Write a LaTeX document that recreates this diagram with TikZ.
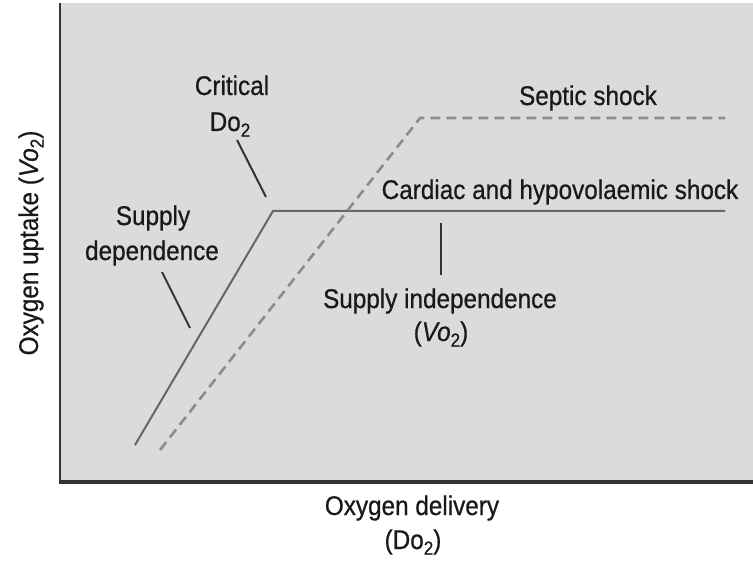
\documentclass[tikz,border=0pt]{standalone}
\usepackage{fontspec}
\setmainfont{Liberation Sans}[FakeStretch=0.9,FakeBold=0.6]
\newcommand\lowtwo{\raisebox{-0.4ex}{\fontsize{19}{19}\selectfont 2}}
\begin{document}
\begin{tikzpicture}[x=1pt,y=-1pt,
  lbl/.style={anchor=base,inner sep=0pt,font=\fontsize{27}{30}\selectfont,text=black!90},
  axisline/.style={draw=black!80,line width=#1},
  leader/.style={draw=black!80,line width=2pt},
  solidcurve/.style={draw=black!60,line width=2pt,line join=miter},
  dashcurve/.style={draw=black!45,line width=2.6pt,dash pattern=on 10pt off 6pt}]
\useasboundingbox (0,0) rectangle (753,567);
% plot area
\fill[black!14] (61,3) rectangle (753,481);
\draw[axisline=2.5pt] (60,3) -- (60,482);
\draw[axisline=4pt] (58.8,482) -- (753,482);
% curves
\coordinate (s0) at (135,445);
\coordinate (s1) at (273,211);
\coordinate (s2) at (725,211);
\coordinate (d0) at (160,450);
\coordinate (d1) at (420,118);
\coordinate (d2) at (725,118);
\draw[solidcurve] (s0) -- (s1) -- (s2);
\draw[dashcurve] (d0) -- (d1) -- (d2);
% labels
\node[lbl] (crit) at (232,95) {Critical};
\node[lbl] (crdo) at (230,131) {Do\lowtwo};
\node[lbl] (sup1) at (153,225) {Supply};
\node[lbl] (sup2) at (152,260) {dependence};
\node[lbl] (sept) at (588,105) {Septic shock};
\node[lbl] (card) at (560,199) {Cardiac and hypovolaemic shock};
\node[lbl] (ind1) at (440,308) {Supply independence};
\node[lbl] (ind2) at (441,341) {(\textit{Vo}\lowtwo)};
\node[lbl] (xax1) at (412,515) {Oxygen delivery};
\node[lbl] (xax2) at (413,549) {(Do\lowtwo)};
\node[lbl,rotate=90] (yax) at (38,243) {Oxygen uptake (\textit{Vo}\lowtwo)};
% leader lines
\coordinate (c0) at (237,140);
\coordinate (c1) at (266,197);
\coordinate (p0) at (162,272);
\coordinate (p1) at (190,328);
\coordinate (i0) at (441,223);
\coordinate (i1) at (441,275);
\draw[leader] (c0) -- (c1);
\draw[leader] (p0) -- (p1);
\draw[leader] (i0) -- (i1);
\end{tikzpicture}
\end{document}
